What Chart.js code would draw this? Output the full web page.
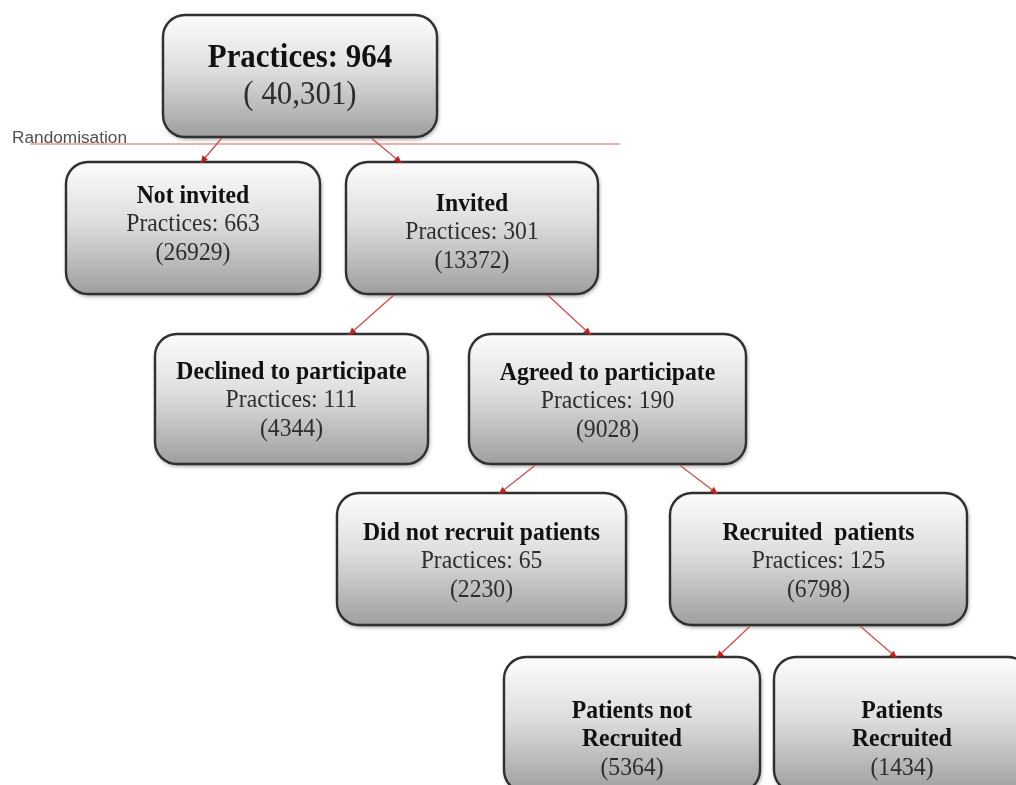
<!DOCTYPE html>
<html>
<head>
<meta charset="utf-8">
<title>Practices flow</title>
<script src="https://cdn.jsdelivr.net/npm/chart.js@4/dist/chart.umd.min.js"></script>
<style>
  body { margin: 0; background: #fff; }
  #flow { display: block; }
</style>
</head>
<body>
<canvas id="flow" width="1016" height="785"></canvas>
<script>
// flowchart data: one entry per box
const titles = ["", "Not invited", "Invited", "Declined to participate", "Agreed to participate",
  "Did not recruit patients", "Recruited  patients", "Patients not|Recruited", "Patients|Recruited"];
const practices = [964, 663, 301, 111, 190, 65, 125, null, null];
const patients = [40301, 26929, 13372, 4344, 9028, 2230, 6798, 5364, 1434];
// parent -> child links
const links = [[0, 1], [0, 2], [2, 3], [2, 4], [4, 5], [4, 6], [6, 7], [6, 8]];

// layout of boxes in page units: left, top, width, height, first text line offset
const boxLayout = [
  [163, 15, 274, 122, 43],
  [66, 162, 254, 132, 34],
  [346, 162, 252, 132, 42],
  [155, 334, 273, 130, 38],
  [469, 334, 277, 130, 39],
  [337, 493, 289, 132, 40],
  [670, 493, 297, 132, 40],
  [504, 657, 256, 135, 54],
  [774, 657, 256, 135, 54]
];
// where each link leaves the parent / enters the child (fraction of box width)
const linkAnchors = [[0.215, 0.53], [0.76, 0.22], [0.19, 0.71], [0.80, 0.44],
  [0.24, 0.56], [0.76, 0.16], [0.27, 0.83], [0.64, 0.48]];

function boxLines(i) {
  if (i === 0) {
    return [
      { text: "Practices: " + practices[0], bold: true },
      { text: "( " + patients[0].toLocaleString("en-US") + ")", bold: false }
    ];
  }
  const lines = titles[i].split("|").map(t => ({ text: t, bold: true }));
  if (practices[i] !== null) lines.push({ text: "Practices: " + practices[i], bold: false });
  lines.push({ text: "(" + patients[i] + ")", bold: false });
  return lines;
}

function roundRect(ctx, x, y, w, h, r) {
  ctx.beginPath();
  ctx.moveTo(x + r, y);
  ctx.arcTo(x + w, y, x + w, y + h, r);
  ctx.arcTo(x + w, y + h, x, y + h, r);
  ctx.arcTo(x, y + h, x, y, r);
  ctx.arcTo(x, y, x + w, y, r);
  ctx.closePath();
}

const flowPlugin = {
  id: "flowBoxes",
  afterDatasetsDraw(chart) {
    const ctx = chart.ctx;
    const sx = chart.scales.x, sy = chart.scales.y;
    const px = v => sx.getPixelForValue(v);
    const py = v => sy.getPixelForValue(v);

    // randomisation divider
    ctx.save();
    ctx.strokeStyle = "#dc6464";
    ctx.lineWidth = 1.2;
    ctx.beginPath();
    ctx.moveTo(px(30), py(144));
    ctx.lineTo(px(620), py(144));
    ctx.stroke();
    ctx.fillStyle = "#505050";
    ctx.font = "16px 'Liberation Sans', Arial, sans-serif";
    ctx.textBaseline = "alphabetic";
    const lw = ctx.measureText("Randomisation").width;
    ctx.translate(px(12), py(143));
    ctx.scale(115 / lw, 1);
    ctx.fillText("Randomisation", 0, 0);
    ctx.restore();

    // boxes
    boxLayout.forEach((b, i) => {
      const x = px(b[0]), y = py(b[1]);
      const w = px(b[0] + b[2]) - x, h = py(b[1] + b[3]) - y;
      ctx.save();
      const g = ctx.createLinearGradient(0, y, 0, y + h);
      g.addColorStop(0, "#fcfcfc");
      g.addColorStop(0.45, "#dedede");
      g.addColorStop(1, "#9f9f9f");
      ctx.shadowColor = "rgba(0,0,0,0.45)";
      ctx.shadowBlur = 4;
      ctx.shadowOffsetX = 1;
      ctx.shadowOffsetY = 2;
      roundRect(ctx, x, y, w, h, 22);
      ctx.fillStyle = g;
      ctx.fill();
      ctx.shadowColor = "transparent";
      ctx.strokeStyle = "#303030";
      ctx.lineWidth = 2.4;
      ctx.stroke();

      const lines = boxLines(i);
      const big = i === 0;
      const lh = big ? 37 : 28.5;
      ctx.textAlign = "center";
      ctx.textBaseline = "middle";
      const cx = x + w / 2;
      lines.forEach((ln, k) => {
        const size = big ? 30 : 23;
        ctx.save();
        ctx.font = (ln.bold ? "bold " : "") + size + "px 'Liberation Serif', 'Times New Roman', serif";
        ctx.fillStyle = ln.bold ? "#111" : "#2e2e2e";
        ctx.translate(cx, y + b[4] + k * lh);
        ctx.scale(1.03, 1.12);
        ctx.fillText(ln.text, 0, 0);
        ctx.restore();
      });
      ctx.restore();
    });

    // arrows
    links.forEach((l, k) => {
      const p = boxLayout[l[0]], c = boxLayout[l[1]];
      const a = linkAnchors[k];
      const x1 = px(p[0] + p[2] * a[0]), y1 = py(p[1] + p[3]) + 1;
      const x2 = px(c[0] + c[2] * a[1]), y2 = py(c[1]) + 1;
      const ang = Math.atan2(y2 - y1, x2 - x1);
      ctx.save();
      ctx.strokeStyle = "#d04848";
      ctx.fillStyle = "#c02020";
      ctx.lineWidth = 1.2;
      ctx.beginPath();
      ctx.moveTo(x1, y1);
      ctx.lineTo(x2, y2);
      ctx.stroke();
      ctx.beginPath();
      ctx.moveTo(x2, y2);
      ctx.lineTo(x2 - 8 * Math.cos(ang - 0.45), y2 - 8 * Math.sin(ang - 0.45));
      ctx.lineTo(x2 - 8 * Math.cos(ang + 0.45), y2 - 8 * Math.sin(ang + 0.45));
      ctx.closePath();
      ctx.fill();
      ctx.restore();
    });
  }
};

const centers = boxLayout.map(b => ({ x: b[0] + b[2] / 2, y: b[1] + b[3] / 2 }));

new Chart(document.getElementById("flow").getContext("2d"), {
  type: "scatter",
  data: { datasets: [{ data: centers, pointRadius: 0 }] },
  options: {
    responsive: false,
    animation: false,
    devicePixelRatio: 1,
    layout: { padding: 0 },
    scales: {
      x: { type: "linear", min: 0, max: 1016, display: false },
      y: { type: "linear", min: 0, max: 785, reverse: true, display: false }
    },
    plugins: { legend: { display: false }, tooltip: { enabled: false } }
  },
  plugins: [flowPlugin]
});
</script>
</body>
</html>
